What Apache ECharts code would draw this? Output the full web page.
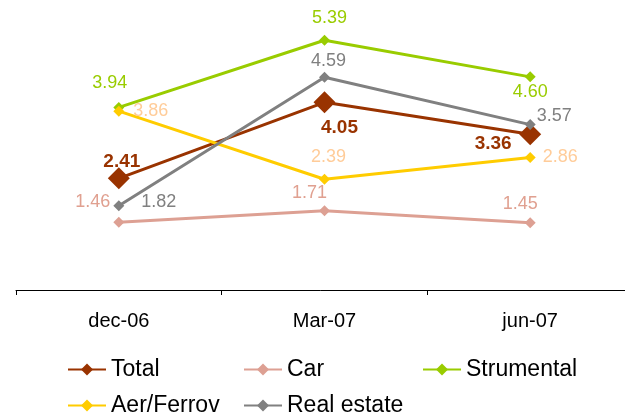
<!DOCTYPE html>
<html>
<head>
<meta charset="utf-8">
<script src="https://cdn.jsdelivr.net/npm/echarts@6/dist/echarts.min.js"></script>
<style>
  html, body { margin: 0; padding: 0; background: #fff; }
  #app { width: 625px; height: 416px; }
</style>
</head>
<body>
<div id="app"></div>
<script>
const categories = ['dec-06', 'Mar-07', 'jun-07'];
const total = [2.41, 4.05, 3.36];
const car = [1.46, 1.71, 1.45];
const strumental = [3.94, 5.39, 4.60];
const aerFerrov = [3.86, 2.39, 2.86];
const realEstate = [1.82, 4.59, 3.57];

const FONT = '"Liberation Sans", Arial, sans-serif';

// label offsets from the symbol centre, per point
const labelOffsets = {
  Total: [[3, -17], [15, 25], [-37, 9]],
  Car: [[-26, -20], [-15, -18], [-10, -19]],
  Strumental: [[-9, -24], [5, -22], [0, 15]],
  'Aer/Ferrov': [[32, 0], [4, -22], [30, 0]],
  'Real estate': [[40, -4], [4, -16], [24, -9]]
};

function makeSeries(name, values, color, labelColor, size, bold) {
  return {
    name: name,
    type: 'line',
    symbol: 'diamond',
    symbolSize: size,
    lineStyle: { color: color, width: 3 },
    itemStyle: { color: color },
    data: values.map((v, i) => ({
      value: v,
      label: { offset: labelOffsets[name][i] }
    })),
    label: {
      show: true,
      position: 'inside',
      color: labelColor,
      fontFamily: FONT,
      fontSize: bold ? 19 : 18,
      fontWeight: bold ? 'bold' : 'normal',
      formatter: p => p.value.toFixed(2)
    },
    emphasis: { disabled: true }
  };
}

function legendAt(name, left, top) {
  return {
    data: [name],
    left: left,
    top: top,
    padding: 0,
    itemWidth: 38,
    itemHeight: 15,
    itemGap: 5,
    textStyle: { fontFamily: FONT, fontSize: 23, color: '#000' }
  };
}

const myChart = echarts.init(document.getElementById('app'));
const option = {
  animation: false,
  grid: { left: 16, right: -8, top: 12, height: 278, outerBoundsMode: 'none', containLabel: false },
  legend: [
    legendAt('Total', 67, 358),
    legendAt('Car', 243, 358),
    legendAt('Strumental', 422, 358),
    legendAt('Aer/Ferrov', 67, 394),
    legendAt('Real estate', 243, 394)
  ],
  xAxis: {
    type: 'category',
    data: categories,
    boundaryGap: true,
    axisLine: { lineStyle: { color: '#000', width: 1 } },
    axisTick: { show: true, length: 5, interval: 0, lineStyle: { color: '#000' } },
    axisLabel: { margin: 21, fontFamily: FONT, fontSize: 20, color: '#000' }
  },
  yAxis: {
    type: 'value',
    show: false,
    min: 0,
    max: 6
  },
  series: [
    makeSeries('Total', total, '#993300', '#993300', 22, true),
    makeSeries('Car', car, '#DDA093', '#E0A090', 11, false),
    makeSeries('Strumental', strumental, '#99CC00', '#99CC00', 11, false),
    makeSeries('Aer/Ferrov', aerFerrov, '#FFCC00', '#FFCC99', 11, false),
    makeSeries('Real estate', realEstate, '#808080', '#808080', 11, false)
  ]
};

myChart.setOption(option);
</script>
</body>
</html>
